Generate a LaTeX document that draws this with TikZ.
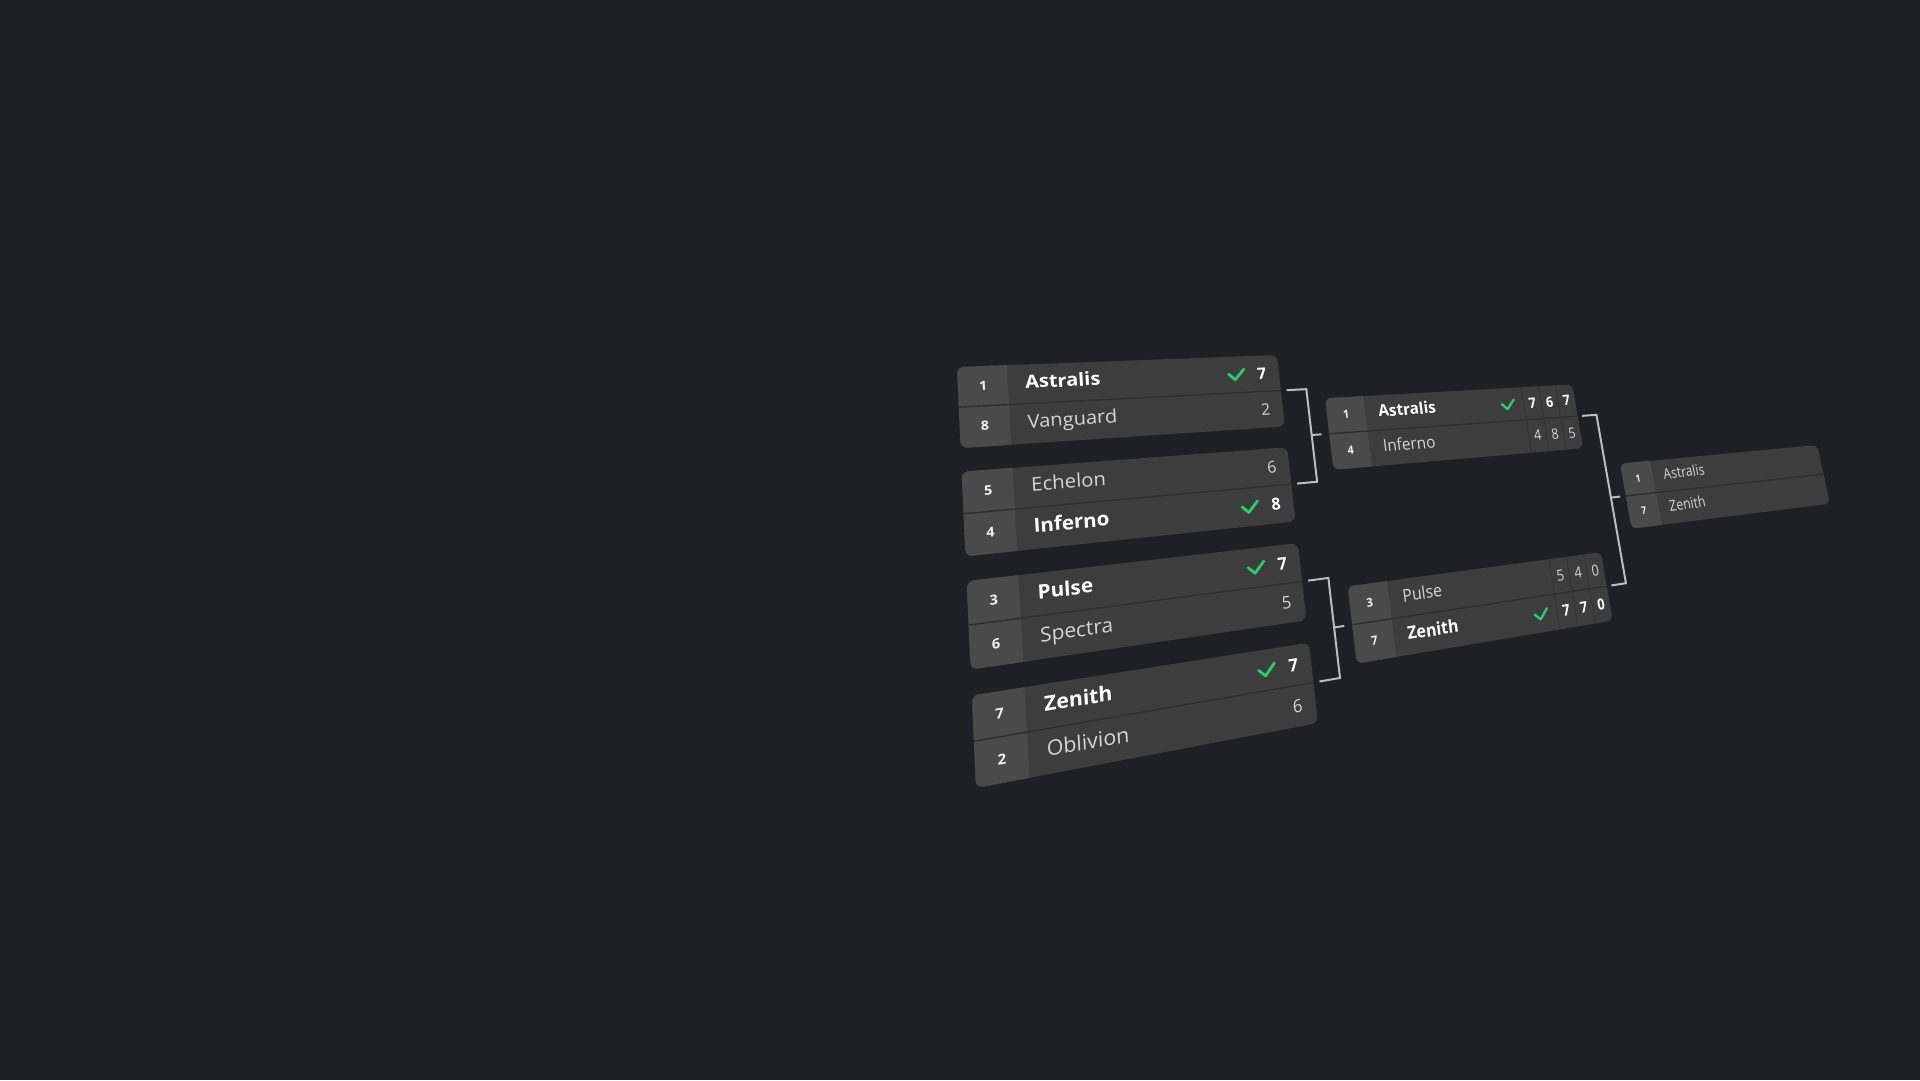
\documentclass[tikz,border=0pt]{standalone}
\usepackage{fontspec}
\setmainfont{Open Sans}
\definecolor{bg}{HTML}{1F2025}
\definecolor{cardfill}{HTML}{3D3D3D}
\definecolor{seedfill}{HTML}{4A4A4A}
\definecolor{divcol}{HTML}{2E2E2E}
\definecolor{cellcol}{HTML}{353535}
\definecolor{losecol}{HTML}{D6D6D6}
\definecolor{seedcol}{HTML}{F2F2F2}
\definecolor{chk}{HTML}{2ECC71}
\definecolor{conncol}{HTML}{BDBDBD}
% homography: flat (u,v) -> image pixels
\def\hA{485.9}\def\hBn{58.98}\def\hC{957}
\def\hDd{34.12}\def\hE{358.04}\def\hF{367}
\def\hG{0.12991}\def\hHn{0.0799}
\pgfkeys{/hp/.is family,/hp/u/.store in=\hpu,/hp/v/.store in=\hpv}
\tikzdeclarecoordinatesystem{hp}{%
  \pgfkeys{/hp/.cd,#1}%
  \pgfmathsetmacro\hpDen{\hG*(\hpu)-\hHn*(\hpv)+1}%
  \pgfmathsetmacro\hpX{(\hA*(\hpu)-\hBn*(\hpv)+\hC)/\hpDen}%
  \pgfmathsetmacro\hpY{-(\hDd*(\hpu)+\hE*(\hpv)+\hF)/\hpDen}%
  \pgfpoint{\hpX pt}{\hpY pt}%
}
\newcommand\ptxt[5]{%
  \pgfmathsetmacro\tU{#2}%
  \pgfmathsetmacro\tV{#3}%
  \pgfmathsetmacro\tD{\hG*\tU-\hHn*\tV+1}%
  \pgfmathsetmacro\tNx{\hA*\tU-\hBn*\tV+\hC}%
  \pgfmathsetmacro\tNy{\hDd*\tU+\hE*\tV+\hF}%
  \pgfmathsetmacro\tX{\tNx/\tD}%
  \pgfmathsetmacro\tY{-\tNy/\tD}%
  \pgfmathsetmacro\tDD{\tD*\tD}%
  \pgfmathsetmacro\ta{(\hA*\tD-\hG*\tNx)/\tDD/330}%
  \pgfmathsetmacro\tb{-(\hDd*\tD-\hG*\tNy)/\tDD/330}%
  \pgfmathsetmacro\tc{(\hBn*\tD-\hHn*\tNx)/\tDD/400}%
  \pgfmathsetmacro\td{(\hE*\tD+\hHn*\tNy)/\tDD/400}%
  \begin{scope}[cm={\ta,\tb,\tc,\td,(\tX,\tY)}]
    \node[transform shape,#4] (#1) at (0,0) {#5};
  \end{scope}}
\newcommand\seedt[4]{\ptxt{#1}{#2+0.07}{#3+0.0116}{seedtxt}{#4}}
\newcommand\namet[5]{\ptxt{#1}{#2+0.19}{#3+0.012}{#4}{#5}}
\newcommand\scoret[5]{\ptxt{#1}{#2}{#3+0.016}{#4}{#5}}
\newcommand\chkm[3]{%
  \draw[chkline,line width=#3] (hp cs:u=#1-8.7/330,v=#2-0.8/400) -- (hp cs:u=#1-1.9/330,v=#2+5.7/400) -- (hp cs:u=#1+8.7/330,v=#2-5.7/400);}
\newcommand\card[4]{%
  \coordinate (#1tl) at (hp cs:u=#2,v=#3);
  \coordinate (#1tr) at (hp cs:u=#2+1,v=#3);
  \coordinate (#1br) at (hp cs:u=#2+1,v=#3+0.2059);
  \coordinate (#1bl) at (hp cs:u=#2,v=#3+0.2059);
  \coordinate (#1st) at (hp cs:u=#2+0.14,v=#3);
  \coordinate (#1sb) at (hp cs:u=#2+0.14,v=#3+0.2059);
  \coordinate (#1ml) at (hp cs:u=#2,v=#3+0.10295);
  \coordinate (#1mr) at (hp cs:u=#2+1,v=#3+0.10295);
  \fill[cardfill,rounded corners=#4] (#1tl) -- (#1tr) -- (#1br) -- (#1bl) -- cycle;
  \begin{scope}
    \clip[rounded corners=#4] (#1tl) -- (#1tr) -- (#1br) -- (#1bl) -- cycle;
    \fill[seedfill] (#1tl) -- (#1st) -- (#1sb) -- (#1bl) -- cycle;
    \draw[divline] (#1ml) -- (#1mr);
  \end{scope}}
\newcommand\cells[3]{%
  \foreach \cx [count=\ci] in {0.775,0.85,0.925}{
    \coordinate (#1ct\ci) at (hp cs:u=#2+\cx,v=#3);
    \coordinate (#1cb\ci) at (hp cs:u=#2+\cx,v=#3+0.2059);
    \draw[cellline] (#1ct\ci) -- (#1cb\ci);
  }}
\tikzset{
  seedtxt/.style={font=\bfseries\fontsize{13}{15}\selectfont,text=seedcol,inner sep=0pt,anchor=base},
  wintxt/.style={font=\bfseries\fontsize{19}{22}\selectfont,text=white,inner sep=0pt,anchor=base west},
  losetxt/.style={font=\fontsize{19}{22}\selectfont,text=losecol,inner sep=0pt,anchor=base west},
  winscore/.style={font=\bfseries\fontsize{18}{22}\selectfont,text=white,inner sep=0pt,anchor=base},
  losescore/.style={font=\fontsize{18}{22}\selectfont,text=losecol,inner sep=0pt,anchor=base},
  chkline/.style={draw=chk,line cap=round,line join=round},
  divline/.style={draw=divcol,line width=1.4pt},
  cellline/.style={draw=cellcol,line width=1pt},
  connline/.style={draw=conncol,line width=2pt,line join=miter},
}
\begin{document}
\begin{tikzpicture}[x=1pt,y=1pt]
\useasboundingbox (0,0) rectangle (1920,-1080);
\fill[bg] (0,0) rectangle (1920,-1080);
% ---------- round 1 ----------
\card{A}{0}{0}{7pt}
\card{B}{0}{0.2647}{7pt}
\card{C}{0}{0.5294}{7pt}
\card{D}{0}{0.7941}{7pt}
% ---------- semis and final ----------
\card{S}{1.153}{0.13235}{6pt}
\cells{S}{1.153}{0.13235}
\card{T}{1.153}{0.66175}{6pt}
\cells{T}{1.153}{0.66175}
\card{F}{2.306}{0.39705}{5pt}
% ---------- connectors ----------
\coordinate (c1a) at (hp cs:u=1.02,v=0.10295);
\coordinate (c1b) at (hp cs:u=1.09,v=0.10295);
\coordinate (c1c) at (hp cs:u=1.09,v=0.36765);
\coordinate (c1d) at (hp cs:u=1.02,v=0.36765);
\coordinate (c1m) at (hp cs:u=1.09,v=0.2353);
\coordinate (c1e) at (hp cs:u=1.125,v=0.2353);
\draw[connline] (c1a) -- (c1b) -- (c1c) -- (c1d);
\draw[connline] (c1m) -- (c1e);
\coordinate (c2a) at (hp cs:u=1.02,v=0.63235);
\coordinate (c2b) at (hp cs:u=1.09,v=0.63235);
\coordinate (c2c) at (hp cs:u=1.09,v=0.89705);
\coordinate (c2d) at (hp cs:u=1.02,v=0.89705);
\coordinate (c2m) at (hp cs:u=1.09,v=0.7647);
\coordinate (c2e) at (hp cs:u=1.125,v=0.7647);
\draw[connline] (c2a) -- (c2b) -- (c2c) -- (c2d);
\draw[connline] (c2m) -- (c2e);
\coordinate (c3a) at (hp cs:u=2.173,v=0.2353);
\coordinate (c3b) at (hp cs:u=2.238,v=0.2353);
\coordinate (c3c) at (hp cs:u=2.238,v=0.7647);
\coordinate (c3d) at (hp cs:u=2.173,v=0.7647);
\coordinate (c3m) at (hp cs:u=2.238,v=0.5);
\coordinate (c3e) at (hp cs:u=2.28,v=0.5);
\draw[connline] (c3a) -- (c3b) -- (c3c) -- (c3d);
\draw[connline] (c3m) -- (c3e);
% ---------- texts: card A ----------
\seedt{sA1}{0}{0.0515}{1}
\namet{nA1}{0}{0.0515}{wintxt}{Astralis}
\chkm{0.853}{0.0515}{2.8pt}
\scoret{kA1}{0.94}{0.0515}{winscore}{7}
\seedt{sA2}{0}{0.1544}{8}
\namet{nA2}{0}{0.1544}{losetxt}{Vanguard}
\scoret{kA2}{0.94}{0.1544}{losescore}{2}
% card B
\seedt{sB1}{0}{0.3162}{5}
\namet{nB1}{0}{0.3162}{losetxt}{Echelon}
\scoret{kB1}{0.94}{0.3162}{losescore}{6}
\seedt{sB2}{0}{0.4191}{4}
\namet{nB2}{0}{0.4191}{wintxt}{Inferno}
\chkm{0.853}{0.4191}{2.8pt}
\scoret{kB2}{0.94}{0.4191}{winscore}{8}
% card C
\seedt{sC1}{0}{0.5809}{3}
\namet{nC1}{0}{0.5809}{wintxt}{Pulse}
\chkm{0.853}{0.5809}{2.8pt}
\scoret{kC1}{0.94}{0.5809}{winscore}{7}
\seedt{sC2}{0}{0.6838}{6}
\namet{nC2}{0}{0.6838}{losetxt}{Spectra}
\scoret{kC2}{0.94}{0.6838}{losescore}{5}
% card D
\seedt{sD1}{0}{0.8456}{7}
\namet{nD1}{0}{0.8456}{wintxt}{Zenith}
\chkm{0.853}{0.8456}{2.8pt}
\scoret{kD1}{0.94}{0.8456}{winscore}{7}
\seedt{sD2}{0}{0.9485}{2}
\namet{nD2}{0}{0.9485}{losetxt}{Oblivion}
\scoret{kD2}{0.94}{0.9485}{losescore}{6}
% semi 1
\seedt{sS1}{1.153}{0.18385}{1}
\namet{nS1}{1.153}{0.18385}{wintxt}{Astralis}
\chkm{1.862}{0.18385}{2.3pt}
\scoret{kS1a}{1.9655}{0.18385}{winscore}{7}
\scoret{kS1b}{2.0405}{0.18385}{winscore}{6}
\scoret{kS1c}{2.1155}{0.18385}{winscore}{7}
\seedt{sS2}{1.153}{0.28675}{4}
\namet{nS2}{1.153}{0.28675}{losetxt}{Inferno}
\scoret{kS2a}{1.9655}{0.28675}{losescore}{4}
\scoret{kS2b}{2.0405}{0.28675}{losescore}{8}
\scoret{kS2c}{2.1155}{0.28675}{losescore}{5}
% semi 2
\seedt{sT1}{1.153}{0.71325}{3}
\namet{nT1}{1.153}{0.71325}{losetxt}{Pulse}
\scoret{kT1a}{1.9655}{0.71325}{losescore}{5}
\scoret{kT1b}{2.0405}{0.71325}{losescore}{4}
\scoret{kT1c}{2.1155}{0.71325}{losescore}{0}
\seedt{sT2}{1.153}{0.81615}{7}
\namet{nT2}{1.153}{0.81615}{wintxt}{Zenith}
\chkm{1.862}{0.81615}{2.3pt}
\scoret{kT2a}{1.9655}{0.81615}{winscore}{7}
\scoret{kT2b}{2.0405}{0.81615}{winscore}{7}
\scoret{kT2c}{2.1155}{0.81615}{winscore}{0}
% final
\seedt{sF1}{2.306}{0.44855}{1}
\namet{nF1}{2.306}{0.44855}{losetxt}{Astralis}
\seedt{sF2}{2.306}{0.55145}{7}
\namet{nF2}{2.306}{0.55145}{losetxt}{Zenith}
\end{tikzpicture}
\end{document}
